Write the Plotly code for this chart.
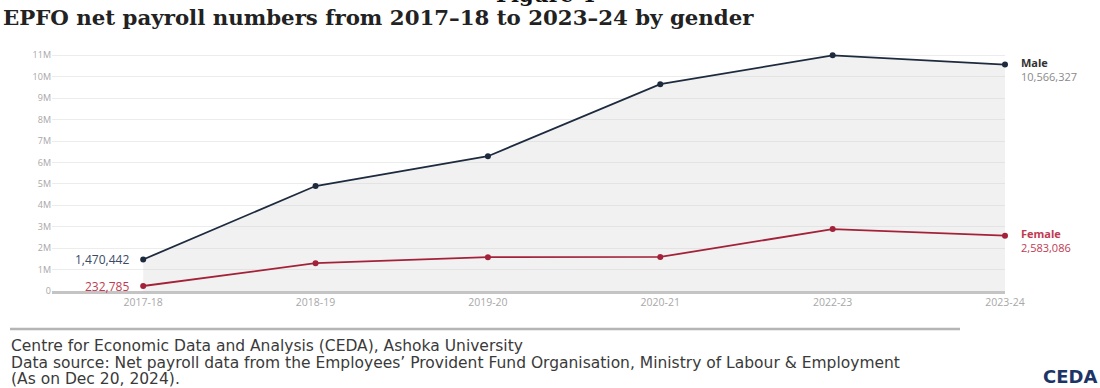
import plotly.graph_objects as go

years = ["2017-18", "2018-19", "2019-20", "2020-21", "2022-23", "2023-24"]
male = [1470442, 4900000, 6290000, 9650000, 11000000, 10566327]
female = [232785, 1300000, 1580000, 1590000, 2890000, 2583086]
y_ticks = [i * 1_000_000 for i in range(12)]
y_tick_text = ["0"] + [f"{i}M" for i in range(1, 12)]

NAVY = "#1e2b3f"
RED = "#a3223a"
RED_TXT = "#c03a52"
GRAY_TXT = "#a8a8a8"

# plot area geometry (pixels) for paper-coordinate conversion
L, R, T, B = 52, 95, 51, 97
W, H = 1100, 388
pw, ph = W - L - R, H - T - B


def px(x):
    return (x - L) / pw


def py(y):
    return (H - B - y) / ph


fig = go.Figure()
fig.add_trace(go.Scatter(
    x=years, y=male, mode="lines+markers", name="Male",
    line=dict(color=NAVY, width=1.8), marker=dict(size=6, color=NAVY),
    fill="tozeroy", fillcolor="rgba(200,200,200,0.25)", cliponaxis=False,
    hoverinfo="x+y",
))
fig.add_trace(go.Scatter(
    x=years, y=female, mode="lines+markers", name="Female",
    line=dict(color=RED, width=1.8), marker=dict(size=6, color=RED),
    cliponaxis=False, hoverinfo="x+y",
))

ann = []
# start labels
ann.append(dict(x=years[0], y=male[0], xref="x", yref="y", text=f"{male[0]:,}",
                showarrow=False, xanchor="right", xshift=-12,
                font=dict(family="Open Sans", size=12, color="#3a4a66")))
ann.append(dict(x=years[0], y=female[0], xref="x", yref="y", text=f"{female[0]:,}",
                showarrow=False, xanchor="right", xshift=-12,
                font=dict(family="Open Sans", size=12, color=RED_TXT)))
# end labels
ann.append(dict(x=years[-1], y=male[-1], xref="x", yref="y",
                text=f"<b><span style='color:#333333'>Male</span></b><br>{male[-1]:,}",
                align="left", showarrow=False, xanchor="left", yanchor="top",
                xshift=14, yshift=12,
                font=dict(family="Open Sans", size=11, color="#8a8a8a")))
ann.append(dict(x=years[-1], y=female[-1], xref="x", yref="y",
                text=f"<b>Female</b><br>{female[-1]:,}", align="left",
                showarrow=False, xanchor="left", yanchor="top", xshift=14, yshift=12,
                font=dict(family="Open Sans", size=11, color=RED_TXT)))
# figure label (cut at top, as in the reference)
ann.append(dict(x=px(545), y=py(9), xref="paper", yref="paper", text="<b>Figure 4</b>",
                showarrow=False, xanchor="center", yanchor="bottom",
                font=dict(family="DejaVu Serif", size=21, color="#111111")))
# footer
footer = [
    ("Centre for Economic Data and Analysis (CEDA), Ashoka University", 346),
    ("Data source: Net payroll data from the Employees\u2019 Provident Fund Organisation, Ministry of Labour & Employment", 363),
    ("(As on Dec 20, 2024).", 379),
]
for t, yy in footer:
    ann.append(dict(x=px(9), y=py(yy), xref="paper", yref="paper", text=t,
                    showarrow=False, xanchor="left", yanchor="middle",
                    font=dict(family="DejaVu Sans", size=15.5, color="#3a3a3a")))
ann.append(dict(x=px(1070), y=py(376), xref="paper", yref="paper", text="<b>CEDA</b>",
                showarrow=False, xanchor="center", yanchor="middle",
                font=dict(family="DejaVu Sans", size=18, color="#1d3566")))

fig.update_layout(
    width=W, height=H,
    margin=dict(l=L, r=R, t=T, b=B, pad=0),
    paper_bgcolor="white", plot_bgcolor="white",
    showlegend=False,
    title=dict(text="<b>EPFO net payroll numbers from 2017\u201318 to 2023\u201324 by gender</b>",
               x=3 / W, xanchor="left", xref="container",
               y=1 - 18 / H, yanchor="middle", yref="container",
               font=dict(family="DejaVu Serif", size=21.3, color="#222222")),
    annotations=ann,
    shapes=[dict(type="line", xref="paper", yref="paper",
                 x0=px(10), x1=px(960), y0=py(329), y1=py(329),
                 line=dict(color="#b5b5b5", width=2.5))],
    xaxis=dict(type="category", range=[-0.529, 5.0], showgrid=False,
               showline=True, linecolor="#c4c4c4", linewidth=2.5,
               tickfont=dict(family="Open Sans", size=10.5, color=GRAY_TXT),
               ticks="", zeroline=False),
    yaxis=dict(range=[0, 11.2e6], tickvals=y_ticks, ticktext=y_tick_text,
               showgrid=True, gridcolor="#ececec", gridwidth=1,
               zeroline=False, showline=False, ticks="",
               tickfont=dict(family="Open Sans", size=9, color=GRAY_TXT)),
)

fig.write_html("out.html")
